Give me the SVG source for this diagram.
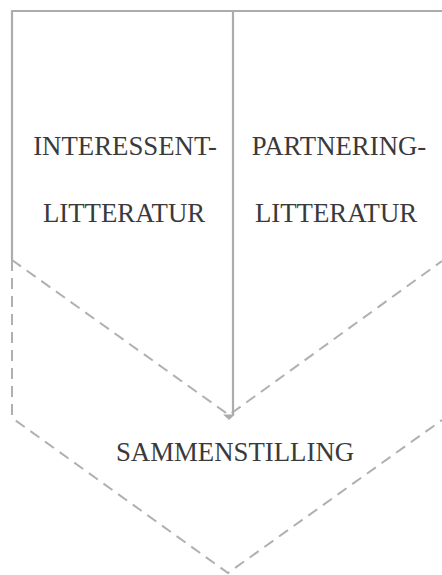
<svg xmlns="http://www.w3.org/2000/svg" width="442" height="575" viewBox="0 0 442 575">
<style>
.solid{fill:none;stroke:#acacac;stroke-width:2.2}
.dash{fill:none;stroke:#b0b0b0;stroke-width:2;stroke-dasharray:11 7}
.lbl{font-family:'Liberation Serif','Times New Roman',serif;font-size:26.8px;fill:#3a3a3a;text-anchor:middle}
</style>
<rect width="442" height="575" fill="#ffffff"/>
<g id="frame">
<path class="solid" d="M12,261 L12,11 L442,11"/>
</g>
<g id="interessent">
<text class="lbl" x="125" y="155">INTERESSENT-</text>
<text class="lbl" x="124" y="222">LITTERATUR</text>
</g>
<g id="partnering">
<text class="lbl" x="339" y="155">PARTNERING-</text>
<text class="lbl" x="336" y="222">LITTERATUR</text>
</g>
<g id="sammenstilling">
<path class="dash" d="M12,260 L229,415 L442,261"/>
<path class="dash" d="M12,260 L12,415 Q12,418 15,420 L228,573 L442,420"/>
<text class="lbl" x="235" y="461">SAMMENSTILLING</text>
</g>
<g id="connectors">
<line class="solid" x1="233" y1="11" x2="233" y2="415"/>
<polygon points="223,414.5 235,414.5 229,420" fill="#acacac"/>
</g>
</svg>
